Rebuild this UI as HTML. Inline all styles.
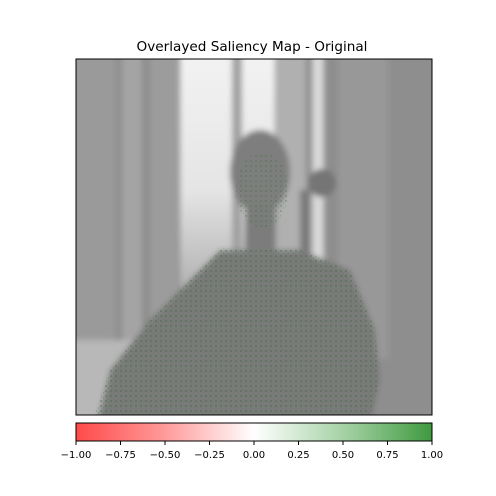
<!DOCTYPE html>
<html><head><meta charset="utf-8"><style>
body{margin:0;background:#fff;width:496px;height:496px;overflow:hidden;font-family:"DejaVu Sans","Liberation Sans",sans-serif}
.abs{position:absolute}
</style></head><body>
<div class="abs" style="left:4px;width:496px;top:39px;text-align:center;font-size:13.6px;color:#000;font-family:'DejaVu Sans','Liberation Sans',sans-serif">Overlayed Saliency Map - Original</div>
<svg class="abs" style="left:0;top:0" width="496" height="496">
<defs>
<linearGradient id="cb" x1="0" x2="1" y1="0" y2="0">
<stop offset="0" stop-color="#ff4a4a"/><stop offset="0.25" stop-color="#ff9a9a"/><stop offset="0.5" stop-color="#ffffff"/><stop offset="0.75" stop-color="#a6d2a6"/><stop offset="1" stop-color="#3f9a3f"/>
</linearGradient>
<linearGradient id="win" x1="0" x2="0" y1="0" y2="1">
<stop offset="0" stop-color="#f4f4f4"/><stop offset="0.6" stop-color="#e4e4e4"/><stop offset="1" stop-color="#b0b0b0"/>
</linearGradient>
<pattern id="noise" width="5" height="5" patternUnits="userSpaceOnUse">
<rect x="0" y="0" width="2" height="2" fill="#2f6a2f" opacity="0.55"/><rect x="3" y="2" width="1" height="2" fill="#4a8a4a" opacity="0.5"/>
</pattern>
<filter id="blur"><feGaussianBlur stdDeviation="3"/></filter>
<clipPath id="imgclip"><rect x="76" y="59" width="356" height="356"/></clipPath>
</defs>
<g>
<g clip-path="url(#imgclip)">
<rect x="76" y="59" width="356" height="356" fill="#8e8e8e"/>
<g filter="url(#blur)">
<rect x="60" y="40" width="56" height="390" fill="#9a9a9a"/>
<rect x="122" y="40" width="20" height="319" fill="#a4a4a4"/>
<rect x="150" y="40" width="28" height="319" fill="#9c9c9c"/>
<rect x="180" y="40" width="95" height="252" fill="url(#win)"/>
<rect x="232" y="40" width="10" height="219" fill="#a0a0a0"/>
<rect x="276" y="40" width="30" height="299" fill="#b0b0b0"/>
<rect x="312" y="40" width="12" height="219" fill="#d8d8d8"/>
<rect x="338" y="40" width="50" height="319" fill="#989898"/>
<rect x="60" y="340" width="86" height="90" fill="#b8b8b8"/>
<path d="M95 430 L110 370 L150 320 L200 270 L220 250 L300 250 L350 270 L375 330 L380 380 L370 430 Z" fill="#7a7a7a"/>
<ellipse cx="260" cy="172" rx="30" ry="42" fill="#7e7e7e"/>
<rect x="245" y="205" width="30" height="50" fill="#7c7c7c"/>
<ellipse cx="322" cy="183" rx="14" ry="14" fill="#747474"/>
<rect x="300" y="190" width="10" height="120" fill="#7a7a7a"/>
</g>
<path d="M95 415 L110 370 L150 320 L200 270 L220 250 L300 250 L350 270 L375 330 L380 380 L370 415 Z" fill="url(#noise)" opacity="0.6"/>
<ellipse cx="262" cy="190" rx="26" ry="38" fill="url(#noise)" opacity="0.45"/>
</g>
<rect x="76" y="59" width="356" height="356" fill="none" stroke="#000" stroke-width="1"/>
</g>
<g>
<rect x="76" y="423" width="356" height="18" fill="url(#cb)" stroke="#000" stroke-width="1"/>
<g id="ticks"></g>
</g>
</svg>
<script>
const tickValues=[-1,-0.75,-0.5,-0.25,0,0.25,0.5,0.75,1];
const tickLabels=["\u22121.00","\u22120.75","\u22120.50","\u22120.25","0.00","0.25","0.50","0.75","1.00"];
const x0=76,x1=432;
function xs(v){return x0+(v+1)/2*(x1-x0);}
const g=document.getElementById('ticks');
const ns='http://www.w3.org/2000/svg';
tickValues.forEach((v,i)=>{
 const l=document.createElementNS(ns,'line');
 
 
 l.setAttribute('x1',xs(v));l.setAttribute('x2',xs(v));l.setAttribute('y1',441);l.setAttribute('y2',445);l.setAttribute('stroke','#000');
 g.appendChild(l);
 const t=document.createElementNS(ns,'text');
 
 
 t.setAttribute('x',xs(v));t.setAttribute('y',458);t.setAttribute('text-anchor','middle');t.setAttribute('font-size','10');
 t.setAttribute('font-family','"DejaVu Sans","Liberation Sans",sans-serif');
 t.textContent=tickLabels[i];
 g.appendChild(t);
});
</script>
</body></html>
